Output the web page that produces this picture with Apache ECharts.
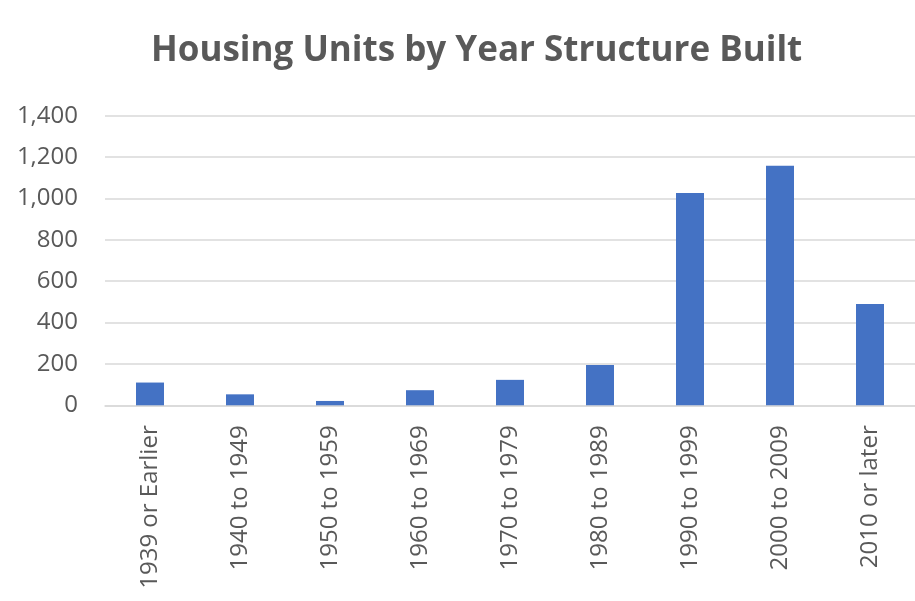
<!DOCTYPE html>
<html>
<head>
<meta charset="utf-8">
<script src="https://cdn.jsdelivr.net/npm/echarts@6/dist/echarts.min.js"></script>
<style>
  html, body { margin: 0; padding: 0; background: #ffffff; }
  #chart { width: 915px; height: 601px; }
</style>
</head>
<body>
<div id="chart"></div>
<script>
// Housing units grouped by the period in which the structure was built
const categories = [
  '1939 or Earlier', '1940 to 1949', '1950 to 1959', '1960 to 1969',
  '1970 to 1979', '1980 to 1989', '1990 to 1999', '2000 to 2009', '2010 or later'
];
const housingUnits = [110, 53, 21, 73, 123, 195, 1026, 1158, 490];
const yTicks = { min: 0, max: 1400, interval: 200 };

const textColor = '#595959';
const fontFamily = '"Open Sans", "Noto Sans", sans-serif';

const chart = echarts.init(document.getElementById('chart'), null, { renderer: 'canvas' });
chart.setOption({
  backgroundColor: '#ffffff',
  animation: false,
  title: {
    text: 'Housing Units by Year Structure Built',
    left: 146,
    top: 29,
    textStyle: { color: textColor, fontFamily: fontFamily, fontSize: 35, fontWeight: 'bold' }
  },
  grid: { left: 105, top: 115.7, width: 815, bottom: 195.7, containLabel: false },
  xAxis: {
    type: 'category',
    data: categories,
    axisLine: { show: true, lineStyle: { color: '#d9d9d9', width: 1.5 } },
    axisTick: { show: false },
    axisLabel: {
      rotate: 90,
      margin: 20,
      interval: 0,
      color: textColor,
      fontFamily: fontFamily,
      fontSize: 24
    }
  },
  yAxis: {
    type: 'value',
    min: yTicks.min,
    max: yTicks.max,
    interval: yTicks.interval,
    axisLine: { show: false },
    axisTick: { show: false },
    splitLine: { lineStyle: { color: '#d9d9d9', width: 1.5 } },
    axisLabel: {
      margin: 27,
      color: textColor,
      fontFamily: fontFamily,
      fontSize: 24,
      formatter: v => v.toLocaleString('en-US')
    }
  },
  series: [{
    type: 'bar',
    data: housingUnits,
    barWidth: 28,
    itemStyle: { color: '#4472c4' }
  }]
});
</script>
</body>
</html>
